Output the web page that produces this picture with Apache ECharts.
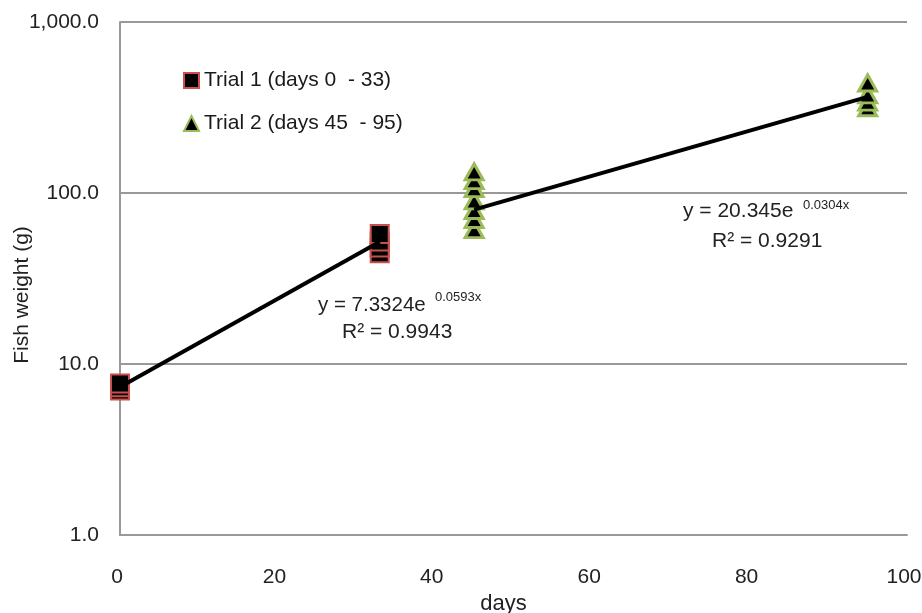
<!DOCTYPE html>
<html>
<head>
<meta charset="utf-8">
<script src="https://cdn.jsdelivr.net/npm/echarts@6/dist/echarts.min.js"></script>
<style>
html,body{margin:0;padding:0;background:#fff;}
#chart{width:922px;height:613px;}
</style>
</head>
<body>
<div id="chart"></div>
<script>
// Data
var trial1Days = [0, 0, 0, 33, 33, 33, 33];
var trial1Weights = [7.0, 7.3, 7.7, 44.5, 48, 52, 57.5];
var trial2Days = [45, 45, 45, 45, 45, 45, 45, 95, 95, 95, 95];
var trial2Weights = [61, 70, 79, 90, 106, 118, 133, 315, 340, 375, 440];
// Fitted exponential trend lines (end points as drawn)
var trend1 = [[0, 7.33], [33, 51.9]];
var trend2 = [[45, 79.9], [95, 365]];
var xTicks = [0, 20, 40, 60, 80, 100];
var yTickValues = [1, 10, 100, 1000];
var yTickLabels = ['1.0', '10.0', '100.0', '1,000.0'];
var seriesNames = ['Trial 1 (days 0  - 33)', 'Trial 2 (days 45  - 95)'];
var eq1 = ['y = 7.3324e', '0.0593x', 'R\u00b2 = 0.9943'];
var eq2 = ['y = 20.345e', '0.0304x', 'R\u00b2 = 0.9291'];

function pairs(xs, ys) { return xs.map(function (x, i) { return [x, ys[i]]; }); }

var FONT = '"Liberation Sans", Arial, sans-serif';
var chart = echarts.init(document.getElementById('chart'), null, {renderer: 'canvas'});

var option = {
  backgroundColor: '#ffffff',
  animation: false,
  textStyle: {fontFamily: FONT},
  grid: {left: 120, top: 22, right: 15, bottom: 78, containLabel: false, outerBoundsMode: 'none'},
  legend: {
    orient: 'vertical', left: 178, top: 65,
    itemWidth: 15, itemHeight: 15, itemGap: 22,
    data: [{name: seriesNames[0], icon: 'rect'}, {name: seriesNames[1], icon: 'triangle'}],
    textStyle: {fontSize: 21, color: '#1a1a1a', fontFamily: FONT}
  },
  xAxis: {
    type: 'value', min: xTicks[0], max: xTicks[xTicks.length - 1], interval: 20,
    name: 'days', nameLocation: 'middle', nameGap: 58, nameMoveOverlap: false,
    nameTextStyle: {fontSize: 22, color: '#222', fontFamily: FONT, padding: [0, 20, 0, 0]},
    axisLine: {show: true, lineStyle: {color: '#999', width: 2}},
    axisTick: {show: false},
    splitLine: {show: false},
    axisLabel: {fontSize: 21, color: '#222', margin: 32, fontFamily: FONT, padding: [0, 6, 0, 0]}
  },
  yAxis: {
    type: 'log', logBase: 10, min: yTickValues[0], max: yTickValues[yTickValues.length - 1],
    name: 'Fish weight (g)', nameLocation: 'middle', nameGap: 87, nameMoveOverlap: false,
    nameTextStyle: {fontSize: 21, color: '#222', fontFamily: FONT, padding: [0, 33, 0, 0]},
    axisLine: {show: true, lineStyle: {color: '#999', width: 2}},
    axisTick: {show: false},
    minorTick: {show: false},
    minorSplitLine: {show: false},
    splitLine: {show: true, lineStyle: {color: '#999', width: 2}},
    axisLabel: {
      fontSize: 21, color: '#222', margin: 21, fontFamily: FONT,
      formatter: function (v) {
        var i = yTickValues.findIndex(function (t) { return Math.abs(t - v) / t < 1e-6; });
        return i >= 0 ? yTickLabels[i] : '';
      }
    }
  },
  series: [
    {
      name: seriesNames[0], type: 'scatter', symbol: 'rect', symbolSize: 18,
      data: pairs(trial1Days, trial1Weights),
      itemStyle: {color: '#000', borderColor: '#c9504d', borderWidth: 2, opacity: 1}
    },
    {
      name: seriesNames[1], type: 'scatter', symbol: 'triangle', symbolSize: [18, 16],
      data: pairs(trial2Days, trial2Weights),
      itemStyle: {color: '#000', borderColor: '#9bbb59', borderWidth: 3, opacity: 1}
    },
    {
      name: 'trend1', type: 'line', data: trend1, symbol: 'none', silent: true, z: 5,
      lineStyle: {color: '#000', width: 4}
    },
    {
      name: 'trend2', type: 'line', data: trend2, symbol: 'none', silent: true, z: 5,
      lineStyle: {color: '#000', width: 4}
    }
  ],
  graphic: [
    {type: 'text', left: 318, top: 295, style: {text: eq1[0], font: '20.5px ' + FONT, fill: '#222'}},
    {type: 'text', left: 435, top: 291, style: {text: eq1[1], font: '13px ' + FONT, fill: '#222'}},
    {type: 'text', left: 342, top: 322, style: {text: eq1[2], font: '21px ' + FONT, fill: '#222'}},
    {type: 'text', left: 683, top: 201, style: {text: eq2[0], font: '21px ' + FONT, fill: '#222'}},
    {type: 'text', left: 803, top: 199, style: {text: eq2[1], font: '13px ' + FONT, fill: '#222'}},
    {type: 'text', left: 712, top: 231, style: {text: eq2[2], font: '21px ' + FONT, fill: '#222'}}
  ]
};
chart.setOption(option);
</script>
</body>
</html>
